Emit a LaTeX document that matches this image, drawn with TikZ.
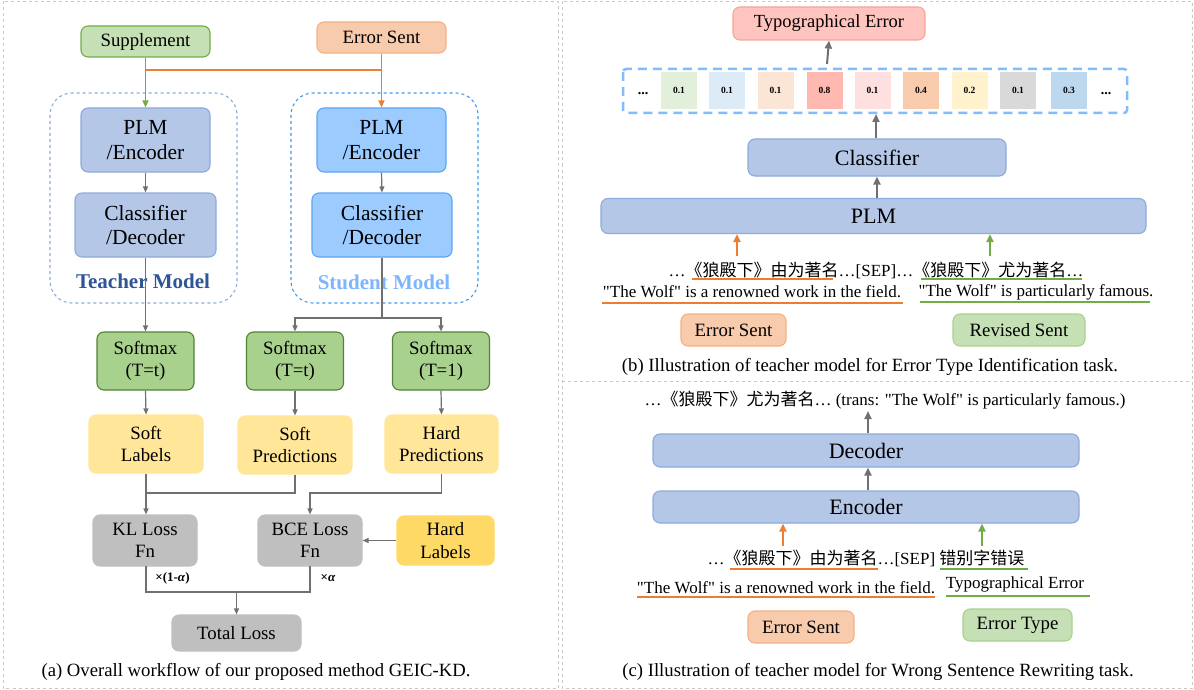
\documentclass[tikz,border=0pt]{standalone}
\usepackage{fontspec}
\setmainfont{Liberation Serif}[Ligatures=TeXOff]
\newfontfamily\cjk{Noto Sans CJK SC}
\usetikzlibrary{arrows.meta}

\definecolor{frame}{HTML}{C8C8C8}
\definecolor{arrgray}{HTML}{707070}
\definecolor{orangeln}{HTML}{ED7D31}
\definecolor{greenln}{HTML}{70AD47}
\definecolor{suppfill}{HTML}{C5E0B4}
\definecolor{suppdraw}{HTML}{70AD47}
\definecolor{errfill}{HTML}{F8CBAD}
\definecolor{errdraw}{HTML}{F4B183}
\definecolor{tfill}{HTML}{B4C7E7}
\definecolor{tdraw}{HTML}{8FAADC}
\definecolor{sfill}{HTML}{9CCBFF}
\definecolor{sdraw}{HTML}{5FA5F5}
\definecolor{sdash}{HTML}{3D9BF0}
\definecolor{tname}{HTML}{2F5597}
\definecolor{sname}{HTML}{7FB5FF}
\definecolor{smfill}{HTML}{A9D18E}
\definecolor{smdraw}{HTML}{548235}
\definecolor{softfill}{HTML}{FFE699}
\definecolor{hardfill}{HTML}{FFD966}
\definecolor{lossfill}{HTML}{BFBFBF}
\definecolor{typofill}{HTML}{FFC4BD}
\definecolor{typodraw}{HTML}{F7A59C}
\definecolor{probdash}{HTML}{80BDFF}
\definecolor{revfill}{HTML}{C5E0B4}
\definecolor{revdraw}{HTML}{A9D18E}

\tikzset{
  blk/.style={rounded corners=7pt, line width=1.1pt, align=center, inner sep=0pt, text=black},
  txt21/.style={font=\fontsize{21.5}{24.5}\selectfont},
  txt22/.style={font=\fontsize{22}{25}\selectfont},
  txt18/.style={font=\fontsize{18.8}{22.5}\selectfont},
  txt17/.style={font=\fontsize{17}{20}\selectfont},
  arr/.style={draw=arrgray, line width=1.2pt, -{Triangle[length=6pt,width=5pt]}},
  arrB/.style={draw=arrgray, line width=2pt, -{Triangle[length=8pt,width=7pt]}},
  arrO/.style={draw=orangeln, line width=2pt, -{Triangle[length=8pt,width=7pt]}},
  arrG/.style={draw=greenln, line width=2pt, -{Triangle[length=8pt,width=7pt]}},
  ln/.style={draw=arrgray, line width=1.2pt},
  uline/.style={line width=1.3pt},
  cell/.style={minimum width=36pt, minimum height=37pt, inner sep=0pt, font=\fontsize{9.5}{10}\selectfont\bfseries},
  captxt/.style={font=\fontsize{18.7}{22}\selectfont, inner sep=0pt},
}

\begin{document}
\begin{tikzpicture}[x=1pt,y=-1pt]
\useasboundingbox (0,0) rectangle (1194,690);
\fill[white] (0,0) rectangle (1194,690);

% panel frames
\draw[frame, dashed, line width=0.8pt] (3,1.5) rectangle (558,688);
\draw[frame, dashed, line width=0.8pt] (562,1.5) rectangle (1192,688);
\draw[frame, dashed, line width=0.8pt] (562,381) -- (1192,381);

% ---------------- (a) overall workflow ----------------
\node[blk, txt18, fill=suppfill, draw=suppdraw, minimum width=129pt, minimum height=31pt] (supp) at (145.5,41.5) {Supplement};
\node[blk, txt18, fill=errfill, draw=errdraw, minimum width=129pt, minimum height=31pt] (errA) at (381.5,37.5) {Error Sent};

% model frames
\draw[tdraw, dashed, line width=1.1pt, rounded corners=22pt] (50,93) rectangle (237,303);
\draw[sdash, dashed, line width=1.1pt, rounded corners=22pt] (291,93) rectangle (478,303);

\node[blk, txt21, fill=tfill, draw=tdraw, minimum width=129pt, minimum height=64pt] (tplm) at (145.5,140) {PLM\\/Encoder};
\node[blk, txt21, fill=tfill, draw=tdraw, minimum width=141pt, minimum height=64pt] (tcls) at (145.5,225) {Classifier\\/Decoder};
\node[blk, txt21, fill=sfill, draw=sdraw, minimum width=129pt, minimum height=64pt] (splm) at (381.5,140) {PLM\\/Encoder};
\node[blk, txt21, fill=sfill, draw=sdraw, minimum width=140pt, minimum height=64pt] (scls) at (382,225) {Classifier\\/Decoder};

\node[font=\fontsize{21}{24}\selectfont\bfseries, text=tname, inner sep=0pt] (tname) at (143,281) {Teacher Model};
\node[font=\fontsize{21}{24}\selectfont\bfseries, text=sname, inner sep=0pt] (sname) at (384,282) {Student Model};

% inputs
\coordinate (jin) at (145.5,70);
\draw[orangeln, line width=1.3pt] (errA.south) |- (jin);
\draw[arrG, line width=1.3pt, -{Triangle[length=7pt,width=6pt]}] (supp.south) -- (tplm.north);
\draw[arrO, line width=1.3pt, -{Triangle[length=7pt,width=6pt]}] (errA.south) -- (splm.north);

\draw[arr] (tplm.south) -- (tcls.north);
\draw[arr] (splm.south) -- (scls.north);

% softmax row
\node[blk, txt18, fill=smfill, draw=smdraw, minimum width=97pt, minimum height=58pt] (sm1) at (145.5,361) {Softmax\\(T=t)};
\node[blk, txt18, fill=smfill, draw=smdraw, minimum width=97pt, minimum height=58pt] (sm2) at (295,361) {Softmax\\(T=t)};
\node[blk, txt18, fill=smfill, draw=smdraw, minimum width=97pt, minimum height=58pt] (sm3) at (441,361) {Softmax\\(T=1)};

\draw[arr] (tcls.south) -- (sm1.north);
\coordinate (sj) at (382,318);
\draw[ln] (scls.south) -- (sj);
\draw[arr] (sj) -| (sm2.north);
\draw[arr] (sj) -| (sm3.north);

% label row
\node[blk, txt18, fill=softfill, draw=softfill, minimum width=114pt, minimum height=58pt] (sl) at (146,444) {Soft\\Labels};
\node[blk, txt18, fill=softfill, draw=softfill, minimum width=114pt, minimum height=58pt] (sp) at (295,445) {Soft\\Predictions};
\node[blk, txt18, fill=softfill, draw=softfill, minimum width=113pt, minimum height=58pt] (hp) at (441.5,444) {Hard\\Predictions};

\draw[arr] (sm1.south) -- (sl.north);
\draw[arr] (sm2.south) -- (sp.north);
\draw[arr] (sm3.south) -- (hp.north);

% loss row
\node[blk, txt18, fill=lossfill, draw=lossfill, minimum width=104pt, minimum height=51pt] (kl) at (145,540.5) {KL Loss\\Fn};
\node[blk, txt18, fill=lossfill, draw=lossfill, minimum width=104pt, minimum height=51pt] (bce) at (310,540.5) {BCE Loss\\Fn};
\node[blk, txt18, fill=hardfill, draw=hardfill, minimum width=97pt, minimum height=49pt] (hl) at (445.5,540.5) {Hard\\Labels};

\coordinate (klj) at (146,493);
\coordinate (bcej) at (310,493);
\draw[arr] (sl.south) -- (sl.south |- kl.north);
\draw[ln] (sp.south) |- (klj);
\draw[arr] (hp.south) |- (bcej) -- (bce.north);
\draw[arr] (hl.west) -- (bce.east);

% total
\node[blk, txt18, fill=lossfill, draw=lossfill, minimum width=129pt, minimum height=36pt] (total) at (236.5,633) {Total Loss};
\coordinate (tj) at (236.5,592);
\draw[ln] (146,566) -- (146,592) -- (310,592) -- (310,566);
\draw[arr] (tj) -- (total.north);
\node[font=\fontsize{13}{14}\selectfont\bfseries, inner sep=0pt] (wk) at (172.5,578) {×(1-\textit{α})};
\node[font=\fontsize{13}{14}\selectfont\bfseries, inner sep=0pt] (wb) at (328,578) {×\textit{α}};

\node[captxt] (capa) at (256,672) {(a) Overall workflow of our proposed method GEIC-KD.};

% ---------------- (b) error type identification ----------------
\node[blk, font=\fontsize{18.5}{22}\selectfont, fill=typofill, draw=typodraw, minimum width=192pt, minimum height=33pt] (typo) at (829,23.5) {Typographical Error};

\draw[probdash, line width=2.5pt, dash pattern=on 9pt off 6pt, rounded corners=3pt] (623,69) rectangle (1127,113);
\coordinate (ptop) at (827,64);
\coordinate (pbot) at (876,114);
\node[font=\fontsize{14}{14}\selectfont\bfseries, inner sep=0pt] (dl) at (643,94) {...};
\node[font=\fontsize{14}{14}\selectfont\bfseries, inner sep=0pt] (dr) at (1106,94) {...};
\foreach \xc/\col/\v [count=\i] in {
  679/E2EFDA/0.1, 727/DDEBF7/0.1, 775.5/FBE5D6/0.1, 824.5/FFB9B0/0.8,
  872.5/FFE0E0/0.1, 921/F8CBAD/0.4, 969.5/FFF2CC/0.2, 1018/D9D9D9/0.1, 1069/BDD7EE/0.3}{
  \definecolor{cc}{HTML}{\col}
  \node[cell, fill=cc] (c\i) at (\xc,90.5) {\v};
}

\draw[arrB] (ptop) -- (typo.south);

\node[blk, txt22, fill=tfill, draw=tdraw, minimum width=258pt, minimum height=37pt] (clsb) at (877,157.5) {Classifier};
\node[blk, txt22, fill=tfill, draw=tdraw, minimum width=545pt, minimum height=35pt] (plmb) at (873.5,216) {PLM};

\draw[arrB] (clsb.north -| pbot) -- (pbot);
\draw[arrB] (plmb.north -| clsb.south) -- (clsb.south);

\coordinate (ob) at (737,256);
\coordinate (gb) at (990,256);
\draw[arrO] (ob) -- (ob |- plmb.south);
\draw[arrG] (gb) -- (gb |- plmb.south);

\node[txt17, inner sep=0pt] (zhb) at (876,270) {…{\cjk《狼殿下》由为著名}…[SEP]…{\cjk《狼殿下》尤为著名}…};
\draw[orangeln, uline] (692,279) -- (833,279);
\draw[greenln, uline] (921,279) -- (1082,279);

\node[txt17, inner sep=0pt] (enb1) at (752,292) {"The Wolf" is a renowned work in the field.};
\node[txt17, inner sep=0pt] (enb2) at (1036,292) {"The Wolf" is particularly famous.};
\draw[orangeln, uline] (602,303) -- (903,303);
\draw[greenln, uline] (920,302) -- (1150,302);

\node[blk, txt18, fill=errfill, draw=errdraw, minimum width=105pt, minimum height=32pt] (errB) at (733.5,330) {Error Sent};
\node[blk, txt18, fill=revfill, draw=revdraw, minimum width=132pt, minimum height=32pt] (revB) at (1019,330) {Revised Sent};

\node[captxt] (capb) at (870,367) {(b) Illustration of teacher model for Error Type Identification task.};

% ---------------- (c) wrong sentence rewriting ----------------
\node[txt17, inner sep=0pt] (outc) at (885,400) {…{\cjk《狼殿下》尤为著名}… (trans: "The Wolf" is particularly famous.)};
\node[blk, txt22, fill=tfill, draw=tdraw, minimum width=426pt, minimum height=33pt] (dec) at (866,450.5) {Decoder};
\node[blk, txt22, fill=tfill, draw=tdraw, minimum width=426pt, minimum height=32pt] (enc) at (866,507) {Encoder};

\coordinate (outb) at (868,411);
\draw[arrB] (dec.north -| outb) -- (outb);
\draw[arrB] (enc.north -| outb) -- (dec.south -| outb);

\coordinate (oc) at (783,546);
\coordinate (gc) at (982,546);
\draw[arrO] (oc) -- (oc |- enc.south);
\draw[arrG] (gc) -- (gc |- enc.south);

\node[txt17, inner sep=0pt] (zhc) at (866,558) {…{\cjk《狼殿下》由为著名}…[SEP] {\cjk 错别字错误}};
\draw[orangeln, uline] (730,569) -- (878,569);
\draw[greenln, uline] (940,569) -- (1028,569);

\node[txt17, inner sep=0pt] (enc1) at (786,588) {"The Wolf" is a renowned work in the field.};
\node[txt17, inner sep=0pt] (enc2) at (1015,584) {Typographical Error};
\draw[orangeln, uline] (637,597) -- (935,597);
\draw[greenln, uline] (946,596) -- (1090,596);

\node[blk, txt18, fill=errfill, draw=errdraw, minimum width=106pt, minimum height=32pt] (errC) at (801,627) {Error Sent};
\node[blk, txt18, fill=revfill, draw=revdraw, minimum width=109pt, minimum height=32pt] (typC) at (1017.5,625) {Error Type};

\node[captxt] (capc) at (878,672) {(c) Illustration of teacher model for Wrong Sentence Rewriting task.};
\end{tikzpicture}
\end{document}
